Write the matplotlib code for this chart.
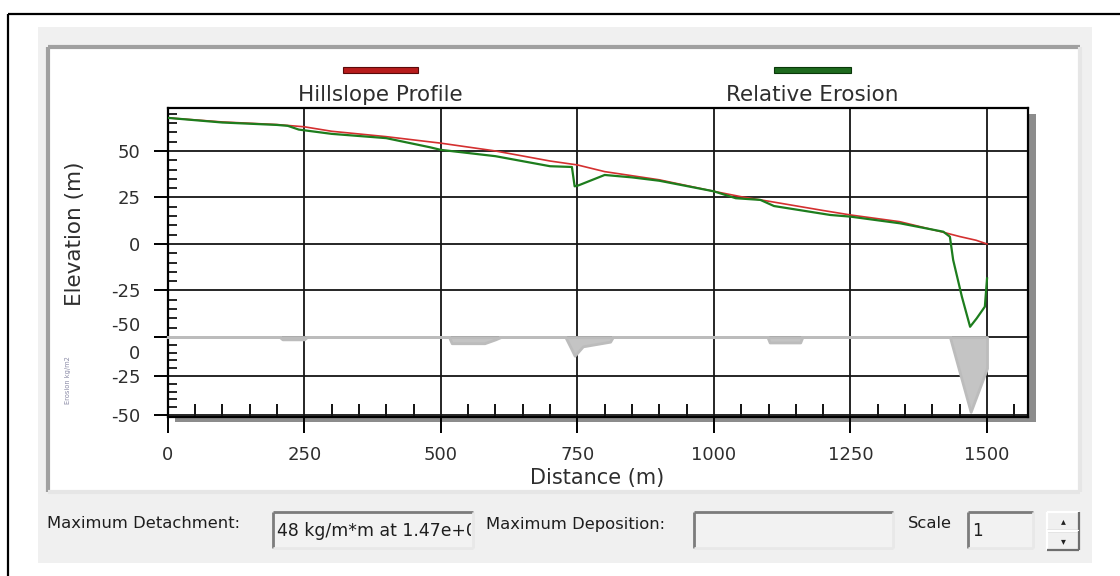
import numpy as np
import matplotlib
matplotlib.use('Agg')
import matplotlib.pyplot as plt
from matplotlib.patches import Rectangle
from matplotlib.lines import Line2D
from matplotlib.transforms import Bbox, TransformedBbox

plt.rcParams['font.family'] = ['DejaVu Sans']

# ---- data ----
prof_x = [0, 100, 200, 250, 300, 400, 500, 600, 700, 750, 800, 900, 1000, 1050,
          1100, 1200, 1250, 1340, 1420, 1450, 1480, 1500]
prof_y = [67.8, 65.6, 64.2, 63.0, 60.6, 57.7, 54.2, 50.0, 44.6, 42.5, 38.9, 34.5,
          28.3, 25.4, 23.0, 18.0, 15.6, 12.0, 6.3, 4.0, 2.0, 0.0]

eros_x = [0, 100, 200, 220, 240, 300, 400, 480, 500, 600, 700, 740, 745, 752, 800,
          850, 900, 1000, 1040, 1085, 1110, 1213, 1250, 1341, 1420, 1432, 1438,
          1454, 1469, 1481, 1496, 1500]
eros_y = [67.8, 65.3, 64.0, 63.5, 61.5, 59.2, 56.9, 52.0, 50.6, 47.2, 41.8, 41.4,
          31.0, 31.5, 37.1, 35.8, 34.0, 28.3, 24.6, 23.7, 20.4, 15.6, 14.7, 11.1,
          6.6, 3.9, -8.6, -28.4, -44.5, -40.0, -33.7, -18.5]

det_x = [0, 205, 210, 250, 255, 515, 520, 580, 600, 610, 728, 738, 745, 760, 810,
         815, 1098, 1102, 1158, 1162, 1432, 1470, 1500, 1500]
det_y = [0, 0, -1.5, -1.5, 0, 0, -4, -4, -1.5, 0, 0, -7, -12, -6, -3, 0, 0, -3.5,
         -3.5, 0, 0, -48, -20, 0]

x_major = [0, 250, 500, 750, 1000, 1250, 1500]
x_labels = ['0', '250', '500', '750', '1000', '1250', '1500']
elev_ticks = [50, 25, 0, -25, -50]
elev_labels = ['50', '25', '0', '-25', '']
det_ticks = [0, -25, -50]
det_labels = ['', '-25', '-50']

max_det_text = '48 kg/m*m at 1.47e+003'
scale_text = '1'

W, H = 1120, 576
fig = plt.figure(figsize=(W / 100, H / 100), dpi=100, facecolor='white')


def fx(x):
    return x / W


def fy(y):
    return 1 - y / H


def rect(x0, y0, x1, y1, **kw):
    r = Rectangle((fx(x0), fy(y1)), (x1 - x0) / W, (y1 - y0) / H,
                  transform=fig.transFigure, **kw)
    fig.add_artist(r)
    return r


def seg(x0, y0, x1, y1, color, lw, z=1):
    fig.add_artist(Line2D([fx(x0), fx(x1)], [fy(y0), fy(y1)], transform=fig.transFigure,
                          color=color, lw=lw, zorder=z, solid_capstyle='butt'))


def box3d(x0, y0, x1, y1, fc, tl, br, lw=1.6, z=1):
    rect(x0, y0, x1, y1, fc=fc, ec='none', zorder=z)
    seg(x0, y0, x1, y0, tl, lw, z + 0.1)
    seg(x0, y0, x0, y1, tl, lw, z + 0.1)
    seg(x0, y1, x1, y1, br, lw, z + 0.1)
    seg(x1, y0, x1, y1, br, lw, z + 0.1)


# ---- window chrome ----
seg(8, 14, 1120, 14, 'black', 1.6, -5)
seg(8, 14, 8, 576, 'black', 1.6, -5)
rect(38, 27, 1092, 563, fc='#f0f0f0', ec='none', zorder=-4)
box3d(48, 47, 1080, 492, '#ffffff', '#a0a0a0', '#e6e6e6', lw=3.0, z=-3)
# plot shadow
rect(175, 114, 1036, 422, fc='#8c8c8c', ec='none', zorder=-1)

# ---- axes ----
ax1 = fig.add_axes([fx(167.7), fy(337), (1028 - 167.7) / W, (337 - 108) / H])
ax2 = fig.add_axes([fx(167.7), fy(417), (1028 - 167.7) / W, (417 - 337) / H])

txt = '#2e2e2e'
for ax in (ax1, ax2):
    ax.set_facecolor('white')
    ax.set_xlim(0, 1575)
    ax.set_xticks(x_major)
    ax.grid(True, which='major', color='#151515', lw=1.3)
    for s in ax.spines.values():
        s.set_linewidth(1.6)
        s.set_color('black')
    ax.tick_params(which='major', direction='out', length=10, width=1.4,
                   pad=9.5, labelsize=13, labelcolor=txt)
    ax.tick_params(which='minor', direction='in', length=6.5, width=1.2)
    ax.tick_params(axis='y', right=False)

ax1.spines['bottom'].set_visible(False)
ax2.spines['top'].set_visible(False)

ax1.set_ylim(-50, 73.1)
ax1.set_yticks(elev_ticks)
ax1.set_yticklabels(elev_labels)
ax1.set_yticks(np.arange(-50, 75, 5), minor=True)
ax1.tick_params(axis='x', which='both', bottom=False, labelbottom=False)

ax2.set_ylim(-51.3, 0)
ax2.set_yticks(det_ticks)
ax2.set_yticklabels(det_labels)
ax2.set_yticks(np.arange(-50, 1, 5), minor=True)
ax2.set_xticklabels(x_labels)
ax2.set_xticks(np.arange(0, 1575, 50), minor=True)
ax2.tick_params(axis='x', which='major', length=11.5, pad=9.5)
ax2.tick_params(axis='x', which='minor', length=9.4, width=1.3)

# crowded labels at the panel boundary
ax1.annotate('-50', xy=(0, -50), xycoords=('axes fraction', 'data'), xytext=(-19.5, 1.5),
             textcoords='offset points', ha='right', va='bottom', fontsize=13, color=txt,
             annotation_clip=False)
ax2.annotate('0', xy=(0, 0), xycoords=('axes fraction', 'data'), xytext=(-19.5, -5.5),
             textcoords='offset points', ha='right', va='top', fontsize=13, color=txt,
             annotation_clip=False)

# ---- series ----
ax1.plot(prof_x, prof_y, color='#d43030', lw=1.2, zorder=3)
ax1.plot(eros_x, eros_y, color='#1d7d1d', lw=1.6, zorder=4)

ax2.fill_between(det_x, det_y, 0, facecolor='#c4c4c4', edgecolor='#bcbcbc', lw=2.0,
                 zorder=3, clip_on=False)

# ---- labels / legend ----
fig.text(fx(75), fy(233.5), 'Elevation (m)', rotation=90, ha='center', va='center',
         fontsize=15.5, color=txt)
fig.text(fx(68), fy(380), 'Erosion kg/m2', rotation=90, ha='center', va='center',
         fontsize=4.8, color='#8a8aa6')
fig.text(fx(597), fy(478), 'Distance (m)', ha='center', va='center', fontsize=15,
         color=txt)

rect(343, 66.5, 418, 73, fc='#b81c1c', ec='#5a0a0a', lw=0.8, zorder=2)
fig.text(fx(380), fy(95), 'Hillslope Profile', ha='center', va='center',
         fontsize=15.5, color=txt)
rect(774, 66.5, 851, 73, fc='#1e6a1e', ec='#0a380a', lw=0.8, zorder=2)
fig.text(fx(812), fy(95), 'Relative Erosion', ha='center', va='center',
         fontsize=15.5, color=txt)

# ---- bottom controls ----
ui = '#1e1e1e'
fig.text(fx(47), fy(524), 'Maximum Detachment:', ha='left', va='center',
         fontsize=11.8, color=ui)
box3d(273, 512, 473, 548, '#f2f2f2', '#7c7c7c', '#e8e8e8', lw=2.0, z=1)
t = fig.text(fx(277), fy(531), max_det_text, ha='left', va='center',
             fontsize=12.4, color=ui, zorder=3)
t.set_clip_box(TransformedBbox(Bbox.from_extents(fx(275), fy(547), fx(471), fy(513)),
                               fig.transFigure))
t.set_clip_on(True)

fig.text(fx(486), fy(524), 'Maximum Deposition:', ha='left', va='center',
         fontsize=11.8, color=ui)
box3d(694, 512, 893, 548, '#f2f2f2', '#7c7c7c', '#e8e8e8', lw=2.0, z=1)

fig.text(fx(908), fy(524), 'Scale', ha='left', va='center', fontsize=11.8, color=ui)
box3d(968, 512, 1033, 548, '#f2f2f2', '#7c7c7c', '#e8e8e8', lw=2.0, z=1)
fig.text(fx(972), fy(531), scale_text, ha='left', va='center', fontsize=12, color=ui)

box3d(1047, 512, 1079, 531, '#f0f0f0', '#ffffff', '#6e6e6e', lw=1.6, z=1)
box3d(1047, 531, 1079, 550, '#f0f0f0', '#ffffff', '#6e6e6e', lw=1.6, z=1)
fig.text(fx(1063), fy(521), '\u25b4', ha='center', va='center', fontsize=7, color='#222')
fig.text(fx(1063), fy(541), '\u25be', ha='center', va='center', fontsize=7, color='#222')

fig.savefig('out.png', dpi=100, facecolor='white')
